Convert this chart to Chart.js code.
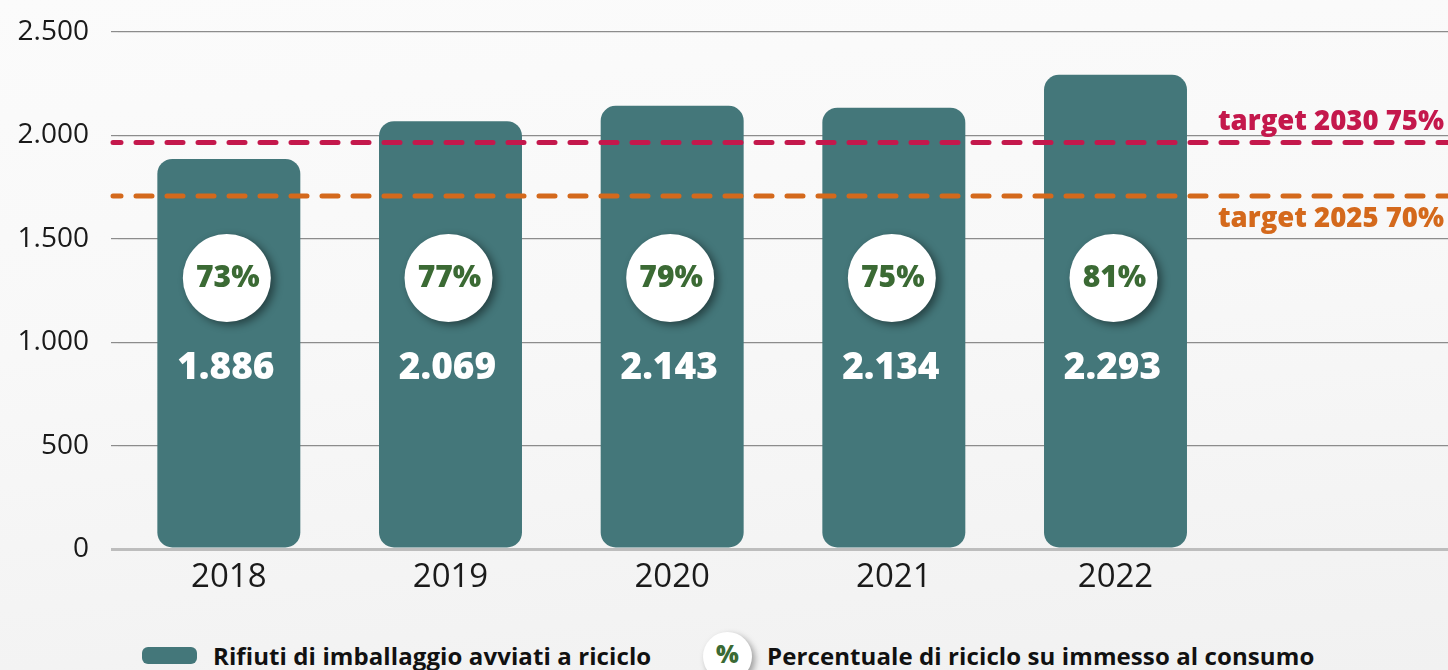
<!DOCTYPE html>
<html>
<head>
<meta charset="utf-8">
<script src="https://cdn.jsdelivr.net/npm/chart.js@4.4.1/dist/chart.umd.min.js"></script>
<style>
  html,body{margin:0;padding:0;}
  body{width:1448px;height:670px;overflow:hidden;position:relative;
    background:linear-gradient(175deg,#fbfbfb 0%,#f8f8f8 45%,#f1f1f1 100%);
    font-family:'Open Sans',sans-serif;}
  #wrap{position:absolute;left:0;top:0;width:1448px;height:600px;}
  .leg{position:absolute;top:640px;height:30px;display:flex;align-items:center;font-weight:700;font-size:24px;color:#111;white-space:nowrap;letter-spacing:0.1px;}
  .sw{display:inline-block;width:55px;height:17px;border-radius:6px;background:#44777a;margin-right:16px;}
  .pc{position:absolute;left:703px;top:632px;width:49px;height:49px;border-radius:50%;background:#fff;display:flex;align-items:center;justify-content:center;color:#3b6a34;font-weight:800;font-size:24px;box-shadow:3px 3px 6px rgba(0,0,0,0.35);}
</style>
</head>
<body>
<div id="wrap"><canvas id="c" width="1448" height="600"></canvas></div>
<div class="leg" style="left:142px;"><span class="sw"></span><span>Rifiuti di imballaggio avviati a riciclo</span></div>
<div class="pc"><span style="margin-top:-6px">%</span></div>
<div class="leg" style="left:767px;"><span>Percentuale di riciclo su immesso al consumo</span></div>
<script>
const categories = ['2018','2019','2020','2021','2022',''];
const recycled = [1886, 2069, 2143, 2134, 2293, null];
const percents = [73, 77, 79, 75, 81];
const yTicks = [0, 500, 1000, 1500, 2000, 2500];
const targetLabels = ['target 2030 75%', 'target 2025 70%'];
const targetValues = [1966, 1707];

function fmt(n){ return n.toString().replace(/\B(?=(\d{3})+(?!\d))/g,'.'); }

const overlay = {
  id:'overlay',
  afterDatasetsDraw(chart){
    const ctx = chart.ctx, y = chart.scales.y;
    const meta = chart.getDatasetMeta(0);
    const cols = ['#c4184c','#d4691c'];
    ctx.save();
    targetValues.forEach((v,i)=>{
      const py = y.getPixelForValue(v);
      ctx.beginPath();
      ctx.strokeStyle = cols[i];
      ctx.lineWidth = 5;
      ctx.lineCap = 'round';
      ctx.setLineDash([16,15]);
      ctx.lineDashOffset = 8;
      ctx.moveTo(113, py); ctx.lineTo(1448, py);
      ctx.stroke();
      ctx.setLineDash([]);
      ctx.fillStyle = cols[i];
      ctx.font = '800 27.5px "Open Sans"';
      ctx.textAlign = 'right';
      ctx.textBaseline = 'middle';
      ctx.fillText(targetLabels[i], 1444, i===0 ? py-20 : py+23);
    });
    ctx.restore();
    meta.data.forEach((bar,i)=>{
      if (recycled[i]==null) return;
      const cx = bar.x;
      const cy = 278;
      ctx.save();
      ctx.shadowColor = 'rgba(0,0,0,0.45)';
      ctx.shadowBlur = 8; ctx.shadowOffsetX = 4; ctx.shadowOffsetY = 3;
      ctx.beginPath(); ctx.arc(cx-2, cy, 44, 0, Math.PI*2);
      ctx.fillStyle = '#ffffff'; ctx.fill();
      ctx.restore();
      ctx.save();
      ctx.fillStyle = '#3b6a34';
      ctx.font = '800 30px "Open Sans"';
      ctx.textAlign='center'; ctx.textBaseline='middle';
      ctx.fillText(percents[i]+'%', cx-1, cy);
      ctx.fillStyle = '#ffffff';
      ctx.font = '800 37px "Open Sans"';
      ctx.fillText(fmt(recycled[i]), cx-3, 368);
      ctx.restore();
    });
  }
};

new Chart(document.getElementById('c'), {
  type:'bar',
  data:{ labels:categories, datasets:[{
    label:'Rifiuti di imballaggio avviati a riciclo',
    data:recycled,
    backgroundColor:'#44777a',
    borderRadius:15,
    borderSkipped:false,
    categoryPercentage:1,
    barPercentage:0.645
  }]},
  options:{
    responsive:false, animation:false,
    layout:{padding:{top:32, right:0, bottom:0, left:0}},
    plugins:{legend:{display:false}, tooltip:{enabled:false}},
    scales:{
      x:{
        grid:{display:false, drawTicks:false},
        border:{display:false},
        ticks:{color:'#1a1a1a', font:{family:'Open Sans', size:33}, padding:9},
        afterFit(s){ s.height = 51; s.paddingLeft = 0; s.paddingRight = 0; }
      },
      y:{
        min:0, max:2500,
        afterBuildTicks(s){ s.ticks = yTicks.map(v=>({value:v})); },
        grid:{
          color:(c)=> c.tick && c.tick.value===0 ? '#bdbdbd' : '#8c8c8c',
          lineWidth:(c)=> c.tick && c.tick.value===0 ? 3 : 1.2,
          drawTicks:true, tickLength:7
        },
        border:{display:false},
        ticks:{color:'#1a1a1a', font:{family:'Open Sans', size:28}, padding:22,
          callback:(v)=>fmt(v)},
        afterFit(s){ s.width = 118; s.paddingTop = 0; s.paddingBottom = 0; }
      }
    }
  },
  plugins:[overlay]
});
</script>
</body>
</html>
